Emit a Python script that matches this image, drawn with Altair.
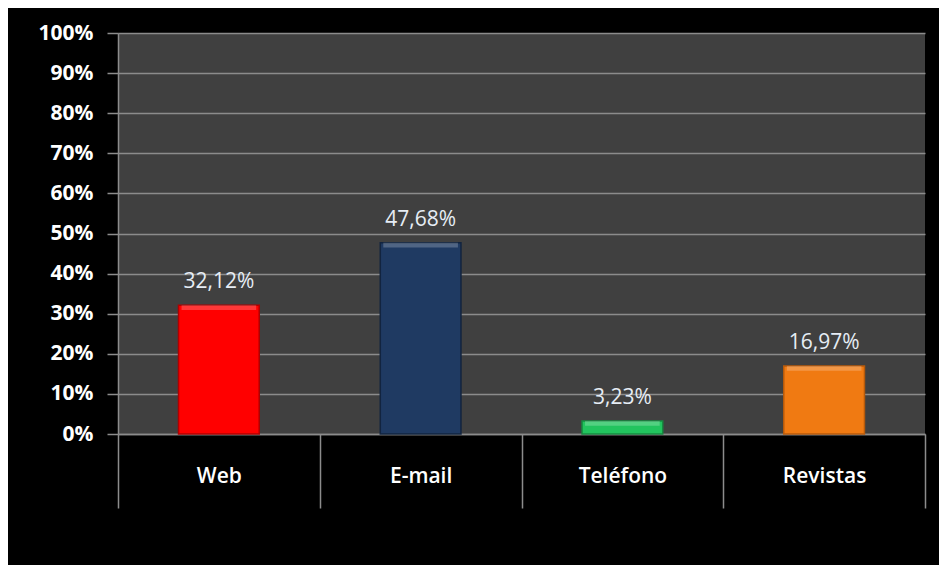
import altair as alt
import pandas as pd

categories = ["Web", "E-mail", "Teléfono", "Revistas"]
values = [0.3212, 0.4768, 0.0323, 0.1697]
colors = ["#ff0000", "#1f3a62", "#22c45e", "#f07a12"]
edge_colors = ["#b00000", "#12243f", "#168a40", "#b85a0a"]
y_ticks = [i / 10 for i in range(11)]

df = pd.DataFrame({"cat": categories, "v": values, "c": colors, "e": edge_colors})

x = alt.X("cat:N", sort=categories, title=None,
          scale=alt.Scale(paddingInner=0, paddingOuter=0),
          axis=alt.Axis(labelAngle=0, tickBand="extent", tickSize=74, labelPadding=-32,
                        labelBaseline="middle", labelFont="Open Sans", labelFontWeight=600,
                        labelFontSize=21, labelColor="#ffffff", tickColor="#8c8c8c",
                        tickWidth=1.5, domainColor="#8c8c8c", domainWidth=1.5, grid=False))
y = alt.Y("v:Q", title=None, scale=alt.Scale(domain=[0, 1]),
          axis=alt.Axis(values=y_ticks, format=".0%", tickSize=11, labelPadding=14,
                        labelFont="Open Sans", labelFontWeight="bold", labelFontSize=21,
                        labelColor="#ffffff", tickColor="#8c8c8c", tickWidth=1.5,
                        domainColor="#8c8c8c", domainWidth=1.5, grid=True,
                        gridColor="#8c8c8c", gridWidth=1.5))

base = alt.Chart(df)

bars = base.mark_bar(width=alt.RelativeBandSize(0.4), strokeWidth=1.5).encode(
    x=x, y=y,
    color=alt.Color("c:N", scale=None),
    stroke=alt.Stroke("e:N", scale=None),
)

shine = base.transform_calculate(top2="datum.v - 0.012").mark_bar(
    width=alt.RelativeBandSize(0.37), color="#ffffff", opacity=0.22
).encode(x=x, y=alt.Y("v:Q"), y2="top2:Q")

labels = base.transform_calculate(
    lab="replace(format(datum.v * 100, '.2f'), '.', ',') + '%'"
).mark_text(dy=-17, baseline="alphabetic", font="Open Sans", fontSize=21,
            color="#e6edf5").encode(x=x, y=alt.Y("v:Q"), text="lab:N")

chart = alt.layer(bars, shine, labels).properties(
    width=807, height=401, autosize=alt.AutoSizeParams(type="none"),
    padding={"left": 110, "top": 25, "right": 14, "bottom": 131},
    background="black",
).configure_view(fill="#404040", strokeWidth=0)

chart.save("out.html", embed_options={"renderer": "svg", "actions": False})
